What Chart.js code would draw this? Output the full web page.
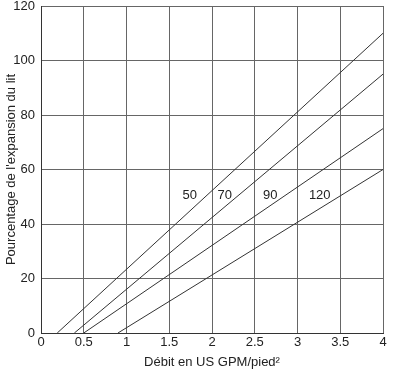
<!DOCTYPE html>
<html>
<head>
<meta charset="utf-8">
<script src="https://cdn.jsdelivr.net/npm/chart.js@4"></script>
<style>
  html, body { margin: 0; padding: 0; background: #fff; }
  #wrap { width: 400px; height: 375px; }
</style>
</head>
<body>
<div id="wrap"><canvas id="chart"></canvas></div>
<script>
// courbes : débit (x) -> expansion (%) pour chaque température
const seriesNames = ['50', '70', '90', '120'];
const lineX = [
  [0.19, 4],
  [0.39, 4],
  [0.5, 4],
  [0.9, 4]
];
const lineY = [
  [0, 110],
  [0, 95],
  [0, 75],
  [0, 60]
];
// position des étiquettes (en unités des axes)
const labelX = [1.74, 2.15, 2.68, 3.26];
const labelY = [50.5, 50.5, 50.5, 50.5];

const xTicks = [0, 0.5, 1, 1.5, 2, 2.5, 3, 3.5, 4];
const yTicks = [0, 20, 40, 60, 80, 100, 120];

const inkColor = '#333';
const gridColor = '#666';

const datasets = seriesNames.map((name, i) => ({
  label: name,
  data: lineX[i].map((x, j) => ({ x: x, y: lineY[i][j] })),
  showLine: true,
  borderColor: inkColor,
  borderWidth: 1,
  pointRadius: 0,
  fill: false
}));

// petit plugin pour écrire les étiquettes sur les courbes
const curveLabels = {
  id: 'curveLabels',
  afterDatasetsDraw(chart) {
    const { ctx, scales } = chart;
    ctx.save();
    ctx.fillStyle = '#222';
    ctx.font = '13px "Liberation Sans", Arial, sans-serif';
    ctx.textAlign = 'center';
    ctx.textBaseline = 'middle';
    seriesNames.forEach((name, i) => {
      ctx.fillText(name, scales.x.getPixelForValue(labelX[i]), scales.y.getPixelForValue(labelY[i]));
    });
    ctx.restore();
  }
};

Chart.defaults.font.family = '"Liberation Sans", Arial, sans-serif';
Chart.defaults.color = '#222';

new Chart(document.getElementById('chart'), {
  type: 'scatter',
  data: { datasets: datasets },
  plugins: [curveLabels],
  options: {
    responsive: true,
    maintainAspectRatio: false,
    animation: false,
    layout: { padding: { top: 0, right: 17, left: 0, bottom: 0 } },
    plugins: {
      legend: { display: false },
      tooltip: { enabled: false }
    },
    scales: {
      x: {
        type: 'linear',
        min: 0,
        max: 4,
        afterBuildTicks(axis) { axis.ticks = xTicks.map(v => ({ value: v })); },
        afterFit(axis) { axis.height = 42; },
        ticks: {
          font: { size: 13 },
          padding: 2,
          callback: v => String(v)
        },
        grid: { color: gridColor, lineWidth: 1, drawTicks: false },
        border: { color: inkColor, width: 1 },
        title: {
          display: true,
          text: 'Débit en US GPM/pied²',
          font: { size: 13 },
          padding: { top: 2, bottom: 5 }
        }
      },
      y: {
        type: 'linear',
        min: 0,
        max: 120,
        afterBuildTicks(axis) { axis.ticks = yTicks.map(v => ({ value: v })); },
        afterFit(axis) {
          axis.width = 41;
          axis.paddingTop = 6;
          axis.paddingBottom = 0;
        },
        ticks: {
          font: { size: 13 },
          padding: 6
        },
        grid: { color: gridColor, lineWidth: 1, drawTicks: false },
        border: { color: inkColor, width: 1 },
        title: {
          display: true,
          text: "Pourcentage de l'expansion du lit",
          font: { size: 13 },
          padding: { top: 4, bottom: 0 }
        }
      }
    }
  }
});
</script>
</body>
</html>
